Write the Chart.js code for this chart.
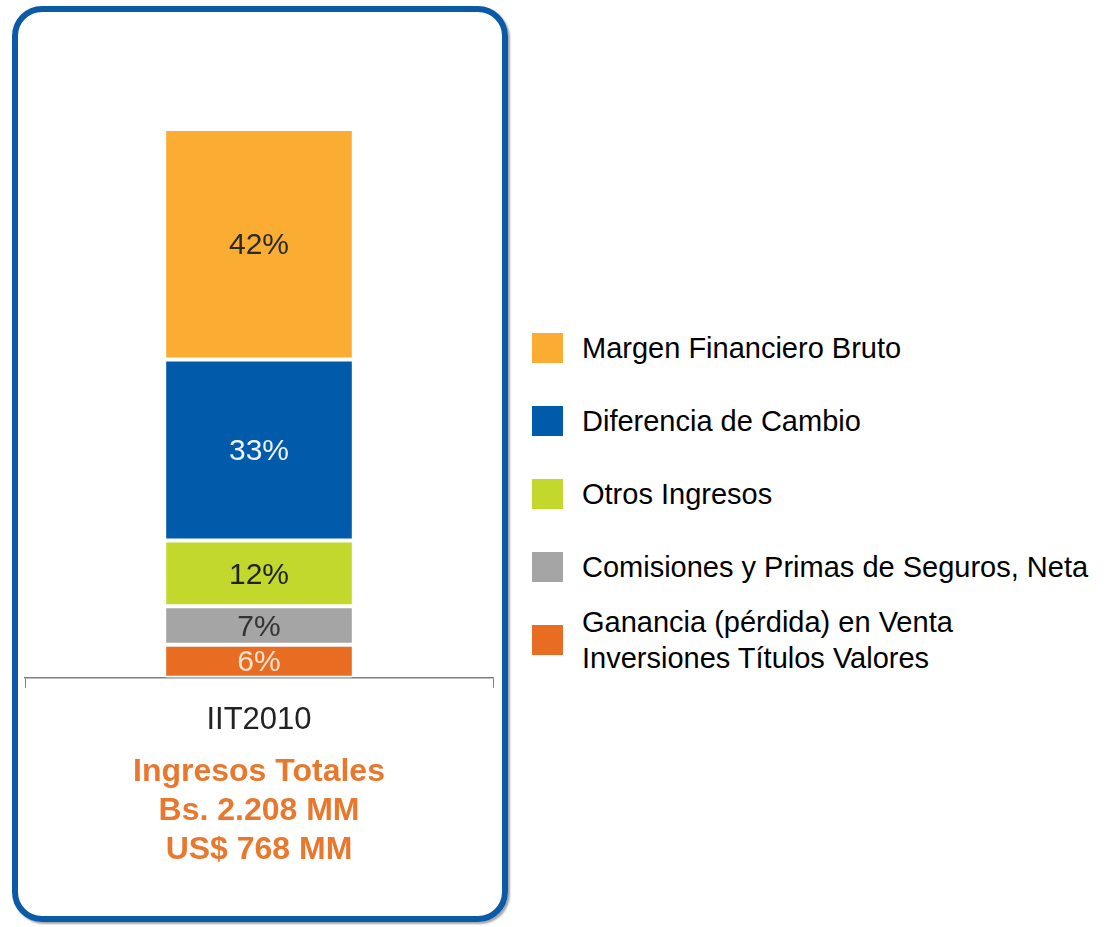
<!DOCTYPE html>
<html>
<head>
<meta charset="utf-8">
<script src="https://cdn.jsdelivr.net/npm/chart.js@4"></script>
<style>
  body { margin: 0; background: #fff; font-family: "Liberation Sans", Arial, sans-serif; }
  #box {
    position: absolute; left: 12px; top: 6px; width: 484px; height: 904px;
    border: 6px solid #0b5aa8; border-radius: 30px;
    box-shadow: 2px 2px 2px rgba(0, 0, 0, 0.35);
  }
  #wrap { position: absolute; left: 0; top: 0; width: 484px; height: 904px; }
  #legend { position: absolute; left: 532px; top: 311px; }
  .item { display: flex; align-items: center; height: 73px; }
  .swatch { width: 31px; height: 30px; margin-right: 19px; flex: none; }
  .text { font-size: 29px; line-height: 36px; color: #000; white-space: nowrap; }
</style>
</head>
<body>
<div id="box"><div id="wrap"><canvas id="chart"></canvas></div></div>
<div id="legend"></div>
<script>
// datos, de abajo hacia arriba en la barra
const categories = ['IIT2010'];
const seriesNames = [
    'Ganancia (pérdida) en Venta\nInversiones Títulos Valores',
    'Comisiones y Primas de Seguros, Neta',
    'Otros Ingresos',
    'Diferencia de Cambio',
    'Margen Financiero Bruto'
];
const seriesValues = [6, 7, 12, 33, 42];
const totalLines = ['Ingresos Totales', 'Bs. 2.208 MM', 'US$ 768 MM'];

const colors = ['#e86c22', '#a5a5a5', '#c3d82d', '#015baa', '#fbad33'];
const labelColors = ['#fde4d2', '#333333', '#222222', '#eef2fa', '#2a2a2a'];
const fontFamily = '"Liberation Sans", Arial, sans-serif';

// etiquetas de porcentaje dentro de cada segmento
const segmentLabels = {
    id: 'segmentLabels',
    afterDatasetsDraw(chart) {
        const ctx = chart.ctx;
        ctx.save();
        ctx.font = '30px ' + fontFamily;
        ctx.textAlign = 'center';
        ctx.textBaseline = 'middle';
        chart.data.datasets.forEach((ds, i) => {
            chart.getDatasetMeta(i).data.forEach((bar, j) => {
                ctx.fillStyle = labelColors[i];
                ctx.fillText(ds.data[j] + '%', bar.x, (bar.y + bar.base) / 2 + 2);
            });
        });
        ctx.restore();
    }
};

new Chart(document.getElementById('chart'), {
    type: 'bar',
    data: {
        labels: categories,
        datasets: seriesNames.map((name, i) => ({
            label: name,
            data: [seriesValues[i]],
            backgroundColor: colors[i],
            borderColor: '#ffffff',
            borderWidth: { top: 2, bottom: 2, left: 0, right: 0 },
            borderSkipped: false,
            categoryPercentage: 1,
            barPercentage: 0.397
        }))
    },
    options: {
        responsive: true,
        maintainAspectRatio: false,
        animation: false,
        layout: { padding: { top: 117, left: 7, right: 9, bottom: 42 } },
        plugins: { legend: { display: false }, tooltip: { enabled: false } },
        scales: {
            x: {
                stacked: true,
                grid: { display: true, drawOnChartArea: false, drawTicks: true, tickLength: 10, color: '#7f7f7f' },
                border: { display: true, color: '#7f7f7f', width: 1.5 },
                ticks: { color: '#222', padding: 14, font: { family: fontFamily, size: 31, lineHeight: 1.2 } },
                title: {
                    display: true,
                    text: totalLines,
                    color: '#e8782e',
                    padding: { top: 0, bottom: 4 },
                    font: { family: fontFamily, size: 32, weight: 'bold', lineHeight: 1.22 }
                }
            },
            y: { stacked: true, display: false, min: 0, max: 100 }
        }
    },
    plugins: [segmentLabels]
});

// leyenda en HTML, de arriba hacia abajo
const legend = document.getElementById('legend');
for (let i = seriesNames.length - 1; i >= 0; i--) {
    const item = document.createElement('div');
    item.className = 'item';
    item.innerHTML = `<div class="swatch" style="background:${colors[i]}"></div>
        <div class="text">${seriesNames[i].replace('\n', '<br>')}</div>`;
    legend.appendChild(item);
}
</script>
</body>
</html>
